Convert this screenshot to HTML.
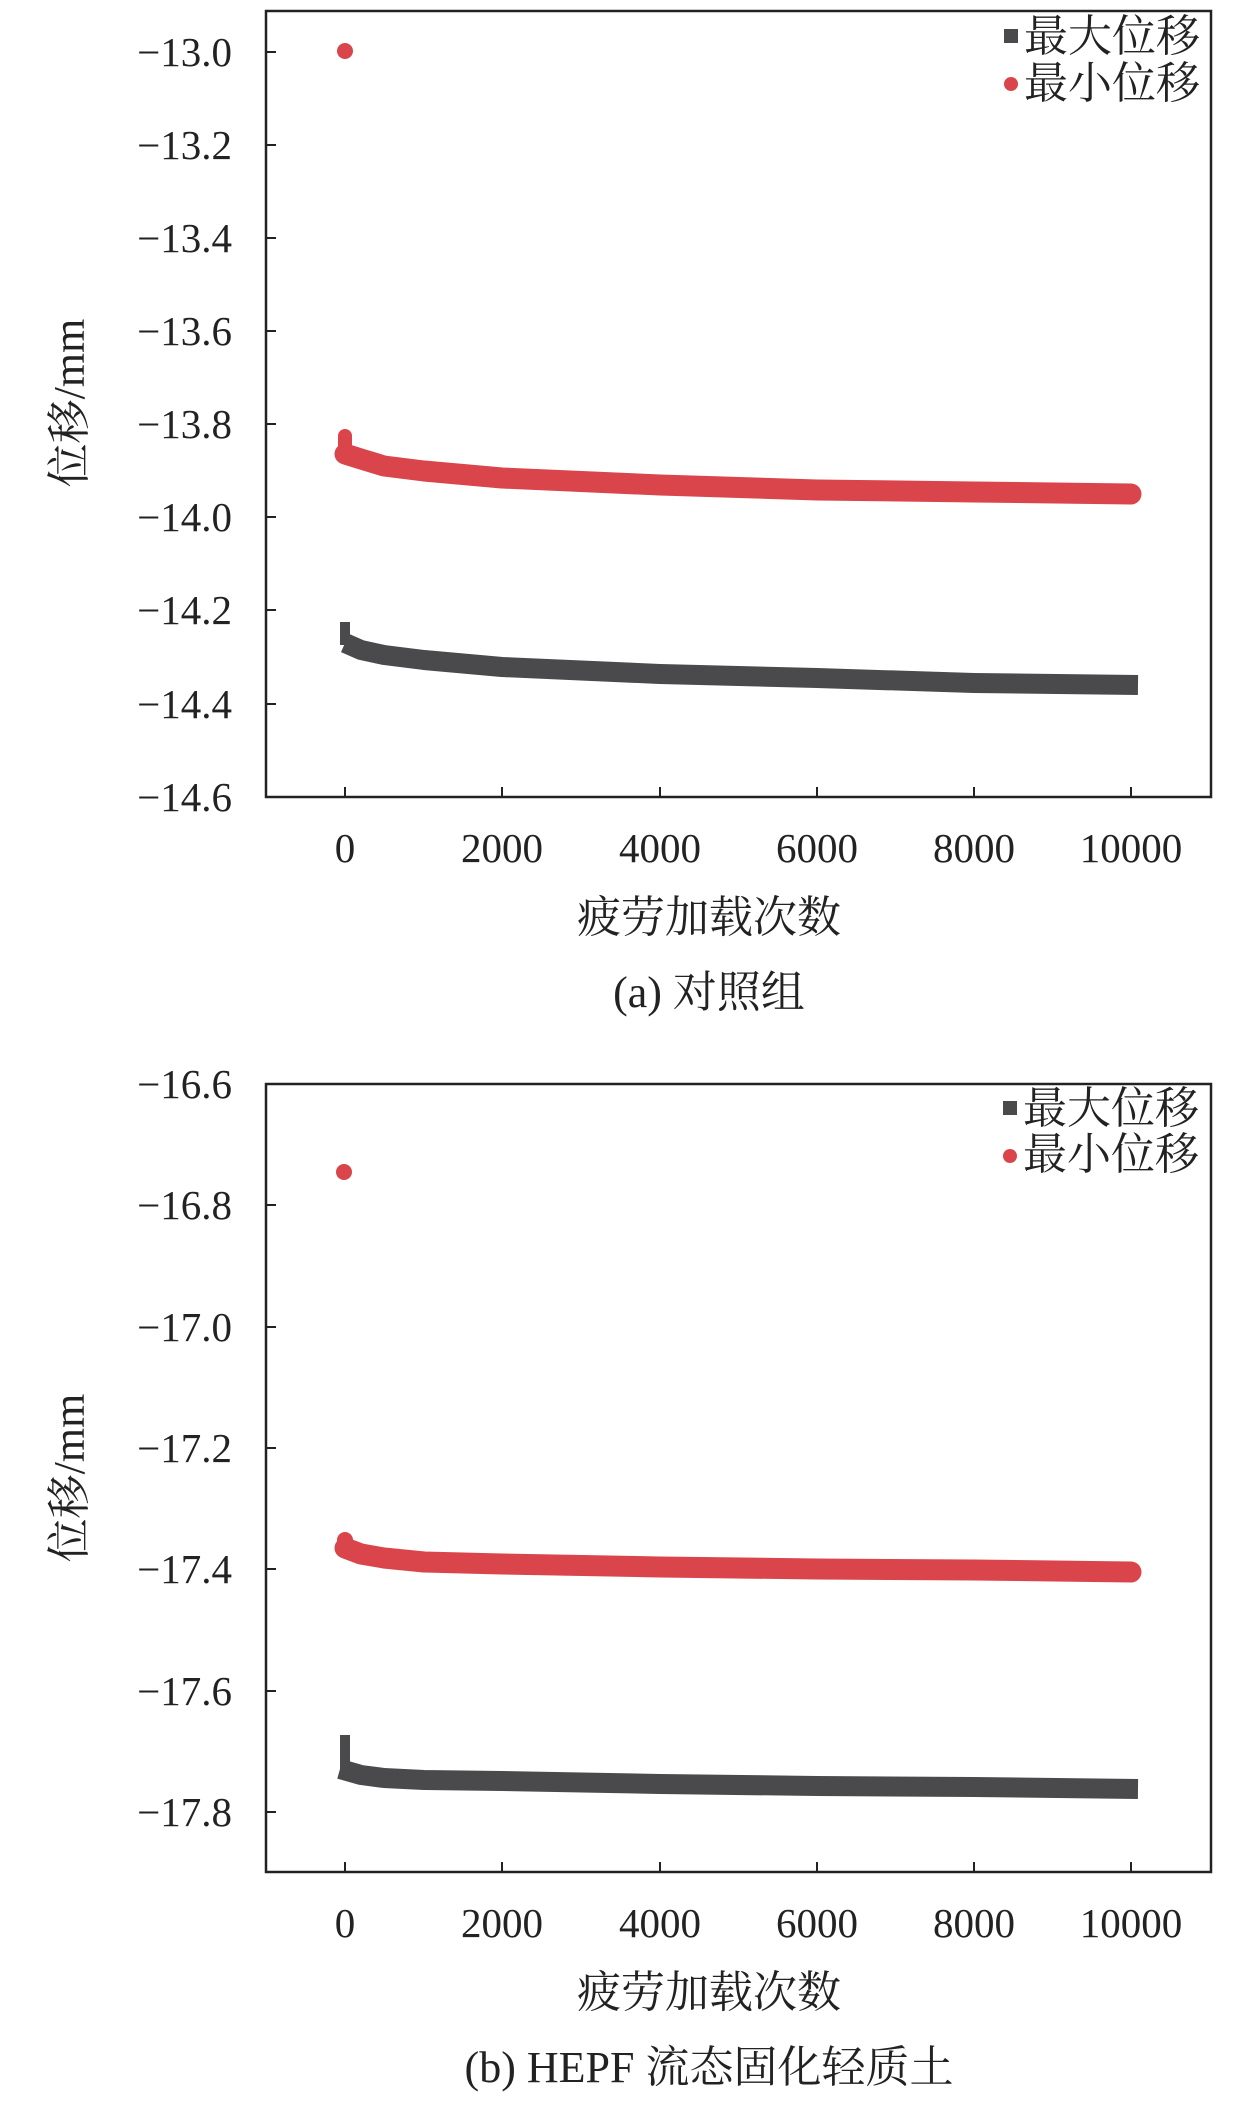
<!DOCTYPE html>
<html><head><meta charset="utf-8"><style>
html,body{margin:0;padding:0;background:#fff}
svg{display:block}
text{font-family:"Liberation Serif","Noto Serif CJK SC",serif;fill:#222}
</style></head><body>
<svg width="1259" height="2102" viewBox="0 0 1259 2102" xmlns="http://www.w3.org/2000/svg">
<!-- Chart A -->
<rect x="266" y="11" width="945" height="786" fill="none" stroke="#222" stroke-width="2.5"/>
<g stroke="#222" stroke-width="2">
<line x1="266" y1="52" x2="276" y2="52"/><line x1="266" y1="145" x2="276" y2="145"/><line x1="266" y1="238" x2="276" y2="238"/><line x1="266" y1="331" x2="276" y2="331"/><line x1="266" y1="424" x2="276" y2="424"/><line x1="266" y1="517" x2="276" y2="517"/><line x1="266" y1="610" x2="276" y2="610"/><line x1="266" y1="704" x2="276" y2="704"/>
<line x1="345" y1="797" x2="345" y2="787"/><line x1="502" y1="797" x2="502" y2="787"/><line x1="660" y1="797" x2="660" y2="787"/><line x1="817" y1="797" x2="817" y2="787"/><line x1="974" y1="797" x2="974" y2="787"/><line x1="1131" y1="797" x2="1131" y2="787"/>
</g>
<g font-size="41" text-anchor="end">
<text x="232" y="66">−13.0</text><text x="232" y="159">−13.2</text><text x="232" y="252">−13.4</text><text x="232" y="345">−13.6</text><text x="232" y="438">−13.8</text><text x="232" y="531">−14.0</text><text x="232" y="624">−14.2</text><text x="232" y="718">−14.4</text><text x="232" y="811">−14.6</text>
</g>
<g font-size="41" text-anchor="middle">
<text x="345" y="862">0</text><text x="502" y="862">2000</text><text x="660" y="862">4000</text><text x="817" y="862">6000</text><text x="974" y="862">8000</text><text x="1131" y="862">10000</text>
</g>
<g font-size="44" text-anchor="middle">
<text x="709" y="932">疲劳加载次数</text>
<text x="709" y="1007">(a) 对照组</text>
</g>
<text font-size="44" text-anchor="middle" transform="translate(84,403) rotate(-90)">位移/mm</text>
<circle cx="345" cy="51" r="8" fill="#d9454a"/>
<line x1="345" y1="436" x2="345" y2="457" stroke="#d9454a" stroke-width="14" stroke-linecap="round"/>
<polyline points="345,454 361,459 384,466 424,471 502,478 660,485 817,490 974,492 1131,494" fill="none" stroke="#d9454a" stroke-width="21" stroke-linecap="round" stroke-linejoin="round"/>
<line x1="345" y1="622" x2="345" y2="645" stroke="#4a4a4c" stroke-width="10"/>
<polyline points="345,643 361,650 384,655 424,660 502,667 660,674 817,678 974,683 1138,685" fill="none" stroke="#4a4a4c" stroke-width="20" stroke-linejoin="round"/>
<rect x="1004" y="29" width="14" height="14" fill="#4a4a4c"/>
<circle cx="1011" cy="84" r="7" fill="#d9454a"/>
<g font-size="44"><text x="1024" y="51">最大位移</text><text x="1024" y="98">最小位移</text></g>

<!-- Chart B -->
<rect x="266" y="1084" width="945" height="788" fill="none" stroke="#222" stroke-width="2.5"/>
<g stroke="#222" stroke-width="2">
<line x1="266" y1="1205" x2="276" y2="1205"/><line x1="266" y1="1327" x2="276" y2="1327"/><line x1="266" y1="1448" x2="276" y2="1448"/><line x1="266" y1="1569" x2="276" y2="1569"/><line x1="266" y1="1691" x2="276" y2="1691"/><line x1="266" y1="1812" x2="276" y2="1812"/>
<line x1="345" y1="1872" x2="345" y2="1862"/><line x1="502" y1="1872" x2="502" y2="1862"/><line x1="660" y1="1872" x2="660" y2="1862"/><line x1="817" y1="1872" x2="817" y2="1862"/><line x1="974" y1="1872" x2="974" y2="1862"/><line x1="1131" y1="1872" x2="1131" y2="1862"/>
</g>
<g font-size="41" text-anchor="end">
<text x="232" y="1098">−16.6</text><text x="232" y="1219">−16.8</text><text x="232" y="1341">−17.0</text><text x="232" y="1462">−17.2</text><text x="232" y="1583">−17.4</text><text x="232" y="1705">−17.6</text><text x="232" y="1826">−17.8</text>
</g>
<g font-size="41" text-anchor="middle">
<text x="345" y="1937">0</text><text x="502" y="1937">2000</text><text x="660" y="1937">4000</text><text x="817" y="1937">6000</text><text x="974" y="1937">8000</text><text x="1131" y="1937">10000</text>
</g>
<g font-size="44" text-anchor="middle">
<text x="709" y="2007">疲劳加载次数</text>
<text x="709" y="2082">(b) HEPF 流态固化轻质土</text>
</g>
<text font-size="44" text-anchor="middle" transform="translate(84,1478) rotate(-90)">位移/mm</text>
<circle cx="344" cy="1172" r="8" fill="#d9454a"/>
<line x1="345" y1="1540" x2="345" y2="1550" stroke="#d9454a" stroke-width="16" stroke-linecap="round"/>
<polyline points="345,1548 361,1554 384,1558 424,1562 502,1564 660,1567 817,1569 974,1570 1131,1572" fill="none" stroke="#d9454a" stroke-width="21" stroke-linecap="round" stroke-linejoin="round"/>
<line x1="345" y1="1735" x2="345" y2="1772" stroke="#4a4a4c" stroke-width="10"/>
<polyline points="340,1769 361,1775 384,1778 424,1780 502,1781 660,1784 817,1786 974,1787 1138,1789" fill="none" stroke="#4a4a4c" stroke-width="20" stroke-linejoin="round"/>
<rect x="1003" y="1101" width="14" height="14" fill="#4a4a4c"/>
<circle cx="1010" cy="1156" r="7" fill="#d9454a"/>
<g font-size="44"><text x="1023" y="1123">最大位移</text><text x="1023" y="1169">最小位移</text></g>
</svg>
</body></html>
